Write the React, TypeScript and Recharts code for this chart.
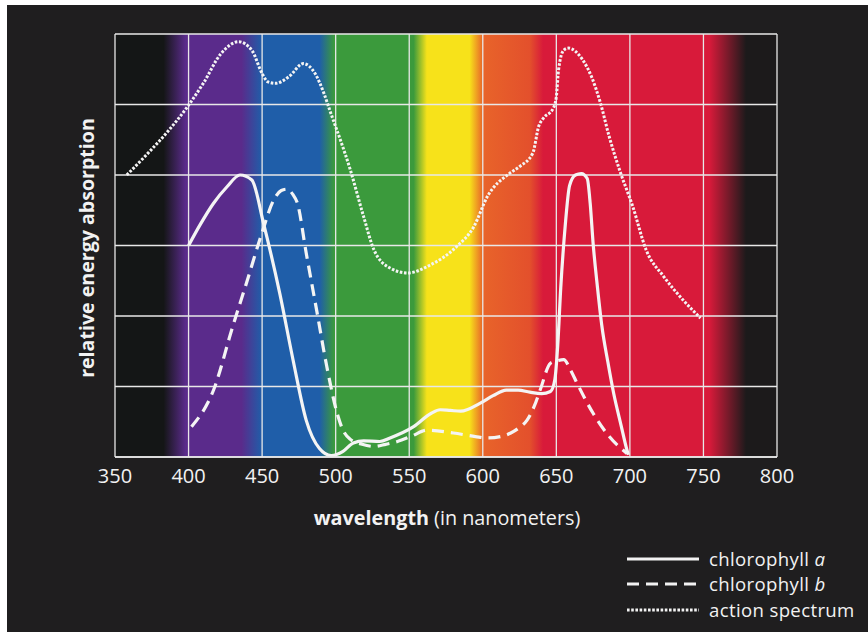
import React from "react"
import {
  LineChart,
  Line,
  XAxis,
  YAxis,
  CartesianGrid,
} from "recharts"

// wavelength ticks (nm)
const xTicks = [350, 400, 450, 500, 550, 600, 650, 700, 750, 800]
const yTicks = [0, 1, 2, 3, 4, 5, 6]

// chlorophyll a (solid)
const chlAWl = [400, 408, 417, 426, 435, 443, 451, 462, 471, 480, 489, 497, 505, 512, 519, 530, 537, 553, 565, 571, 578, 585, 598, 607, 616, 624, 632, 640, 646, 649, 651, 653, 656, 659, 663, 667, 671, 673, 675, 678, 681, 685, 689, 694, 698, 699]
const chlAVal = [3.0, 3.3, 3.6, 3.83, 4.0, 3.93, 3.31, 2.32, 1.38, 0.52, 0.12, 0.02, 0.08, 0.2, 0.23, 0.22, 0.27, 0.43, 0.62, 0.67, 0.66, 0.65, 0.76, 0.87, 0.95, 0.95, 0.92, 0.9, 0.93, 1.1, 1.6, 2.4, 3.27, 3.85, 4.0, 4.02, 3.95, 3.6, 3.03, 2.4, 1.85, 1.35, 0.9, 0.45, 0.1, 0.03]

// chlorophyll b (dashed)
const chlBWl = [402, 417, 430, 440, 449, 458, 463, 467, 471, 474, 480, 487, 494, 501, 505, 510, 518, 526, 534, 542, 552, 562, 580, 595, 603, 612, 619, 625, 630, 635, 639, 646, 650, 655, 660, 664, 675, 686, 698]
const chlBVal = [0.43, 0.95, 1.85, 2.51, 3.12, 3.65, 3.78, 3.8, 3.72, 3.6, 2.89, 2.09, 1.28, 0.62, 0.38, 0.25, 0.18, 0.15, 0.18, 0.22, 0.3, 0.38, 0.34, 0.29, 0.27, 0.29, 0.34, 0.42, 0.52, 0.72, 0.95, 1.33, 1.36, 1.38, 1.22, 1.05, 0.62, 0.29, 0.05]

// action spectrum (dotted)
const actionWl = [358, 372, 386, 400, 410, 422, 434, 443, 450, 454, 459, 468, 478, 486, 492, 496, 510, 519, 526, 537, 549, 564, 582, 594, 603, 618, 625, 634, 638, 641, 648, 650, 651.5, 655, 658, 668, 674, 680, 686, 693, 702, 711, 723, 736, 748]
const actionVal = [4.0, 4.3, 4.62, 4.99, 5.3, 5.72, 5.89, 5.77, 5.44, 5.32, 5.3, 5.39, 5.58, 5.44, 5.16, 4.92, 4.07, 3.41, 2.94, 2.68, 2.61, 2.72, 2.98, 3.27, 3.69, 4.02, 4.12, 4.31, 4.69, 4.8, 4.95, 5.11, 5.49, 5.77, 5.8, 5.63, 5.39, 5.02, 4.54, 4.07, 3.55, 2.94, 2.56, 2.23, 1.97]

// background spectrum bands: wavelength -> colour
const bandWl = [350, 383, 398, 436, 450, 489, 499, 553, 562, 591, 600, 632, 641, 754, 779, 800]
const bandColor = ["#141616", "#141616", "#5a2b8b", "#5a2b8b", "#1f5ea9", "#1f5ea9", "#3b9a3c", "#3b9a3c", "#f7e21a", "#f7e21a", "#e8642a", "#e3502c", "#d81a3a", "#d81a3a", "#1c1a1b", "#1c1a1b"]

const toPoints = (wl: number[], v: number[]) => wl.map((w, i) => ({ wl: w, v: v[i] }))

const chlA = toPoints(chlAWl, chlAVal)
const chlB = toPoints(chlBWl, chlBVal)
const action = toPoints(actionWl, actionVal)

const FONT = "'Open Sans', 'Noto Sans', sans-serif"
const INK = "#f2f2f2"
const GRID = "#e8e8e8"
const DOTS = "2.6 1.6"

function LegendRow({ dash, label, italic }: { dash?: string; label: string; italic?: string }) {
  return (
    <div style={{ display: "flex", alignItems: "center", height: 24 }}>
      <svg width={72} height={6} style={{ marginRight: 10 }}>
        <line x1={0} y1={3} x2={72} y2={3} stroke={INK} strokeWidth={dash === DOTS ? 2.8 : 3.2} strokeDasharray={dash} />
      </svg>
      <span style={{ lineHeight: "24px" }}>
        {label}
        {italic && <i> {italic}</i>}
      </span>
    </div>
  )
}

export default function App() {
  return (
    <div style={{ position: "absolute", left: 7, top: 5, width: 861, height: 627, background: "#1f1e1f", overflow: "hidden", fontFamily: FONT, color: INK }}>
      <div style={{ position: "absolute", left: -7, top: -5 }}>
        <LineChart width={868} height={632} margin={{ top: 34, right: 91, bottom: 135, left: 115 }}>
          <defs>
            <linearGradient id="spectrum" x1="0" y1="0" x2="1" y2="0">
              {bandWl.map((w, i) => (
                <stop key={i} offset={(w - 350) / 450} stopColor={bandColor[i]} />
              ))}
            </linearGradient>
          </defs>
          <CartesianGrid
            stroke={GRID}
            strokeWidth={1.3}
            fill="url(#spectrum)"
            fillOpacity={1}
            horizontalValues={yTicks}
            verticalValues={xTicks}
          />
          <XAxis
            dataKey="wl"
            type="number"
            domain={[350, 800]}
            ticks={xTicks}
            height={40}
            tickLine={false}
            tickSize={0}
            tickMargin={12}
            axisLine={{ stroke: GRID, strokeWidth: 1.3 }}
            tick={{ fill: INK, fontSize: 20, fontFamily: FONT }}
            allowDuplicatedCategory={false}
          />
          <YAxis type="number" domain={[0, 6]} ticks={yTicks} width={0} tick={{ fontSize: 0 }} axisLine={false} tickLine={false} />
          <Line data={action} dataKey="v" type="monotone" stroke="#f4f4f4" strokeWidth={3} strokeDasharray={DOTS} dot={false} isAnimationActive={false} />
          <Line data={chlB} dataKey="v" type="monotone" stroke="#f4f4f4" strokeWidth={3.2} strokeDasharray="12 7" dot={false} isAnimationActive={false} />
          <Line data={chlA} dataKey="v" type="monotone" stroke="#f4f4f4" strokeWidth={3.2} dot={false} isAnimationActive={false} />
        </LineChart>
      </div>

      <div style={{ position: "absolute", left: 87 - 7 - 150, top: 248 - 5 - 13, width: 300, textAlign: "center", transform: "rotate(-90deg)", fontWeight: 700, fontSize: 19.6, lineHeight: "26px", whiteSpace: "nowrap" }}>
        relative energy absorption
      </div>

      <div style={{ position: "absolute", left: 447 - 7 - 200, top: 518 - 5 - 13, width: 400, textAlign: "center", fontSize: 19.8, lineHeight: "26px", whiteSpace: "nowrap" }}>
        <b>wavelength</b> (in nanometers)
      </div>

      <div style={{ position: "absolute", left: 627 - 7, top: 547 - 5, fontSize: 18.6, letterSpacing: 0.35, whiteSpace: "nowrap", display: "flex", flexDirection: "column", gap: 1.4 }}>
        <LegendRow label="chlorophyll" italic="a" />
        <LegendRow dash="12 7" label="chlorophyll" italic="b" />
        <LegendRow dash={DOTS} label="action spectrum" />
      </div>
    </div>
  )
}
